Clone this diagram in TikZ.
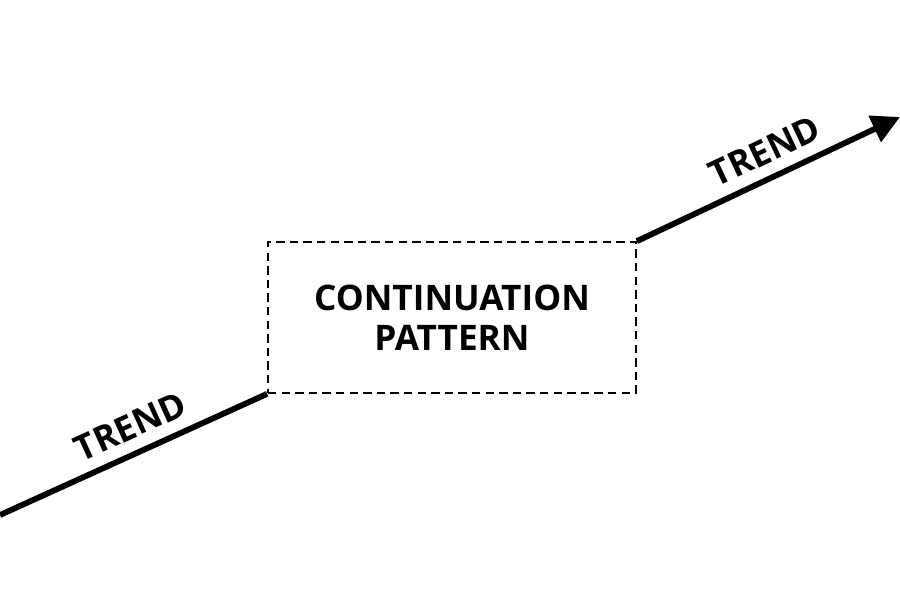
\documentclass[tikz,border=0pt]{standalone}
\usepackage{fontspec}
\setmainfont{Open Sans}
\usetikzlibrary{arrows.meta}

\tikzset{
	trendline/.style={line width=2.9pt},
	trendlabel/.style={font=\bfseries\fontsize{17.6}{21}\selectfont, sloped, pos=0.53, above=5.7pt, inner sep=0pt},
	patternbox/.style={draw, dash pattern=on 4.2pt off 2.6pt, line width=0.8pt, minimum width=184pt, minimum height=75.5pt, align=center, font=\bfseries\fontsize{17.6}{20}\selectfont}
}

\begin{document}
\begin{tikzpicture}[x=0.5pt, y=-0.5pt]
	%%%%% START %%%%%
	\useasboundingbox (0, 0) rectangle (900, 600);
	
	\node[patternbox] (pattern) at (452, 317.5) {CONTINUATION\\PATTERN};
	
	\coordinate (start) at (0, 515);
	\coordinate (tip) at (900, 117);
	
	\draw[trendline] (start) -- (pattern.south west) node[trendlabel] (trendlow) {TREND};
	\draw[trendline, -{Triangle[length=14pt, width=14pt]}] (pattern.north east) -- (tip) node[trendlabel] (trendhigh) {TREND};
	%%%%% END %%%%%
\end{tikzpicture}
\end{document}
